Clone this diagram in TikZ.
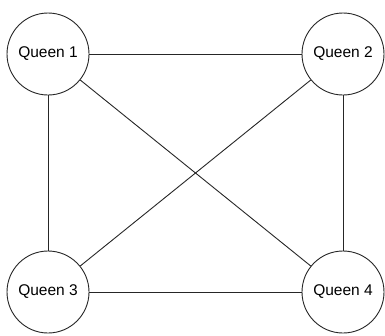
\documentclass[tikz,border=0pt]{standalone}
\usepackage{fontspec}
\setmainfont{Liberation Sans}
\begin{document}
\begin{tikzpicture}[x=1pt,y=-1pt,
  queen/.style={circle,draw=black!85,line width=0.9pt,minimum size=82pt,inner sep=0pt,fill=white,font=\fontsize{15.5}{18}\selectfont},
  link/.style={draw=black!85,line width=0.9pt}]
\useasboundingbox (0,0) rectangle (385,335);
\node[queen] (q1) at (48,54) {Queen 1};
\node[queen] (q2) at (343,54) {Queen 2};
\node[queen] (q3) at (48,292) {Queen 3};
\node[queen] (q4) at (343,292) {Queen 4};
\draw[link] (q1) -- (q2);
\draw[link] (q1) -- (q3);
\draw[link] (q1) -- (q4);
\draw[link] (q2) -- (q3);
\draw[link] (q2) -- (q4);
\draw[link] (q3) -- (q4);
\end{tikzpicture}
\end{document}
